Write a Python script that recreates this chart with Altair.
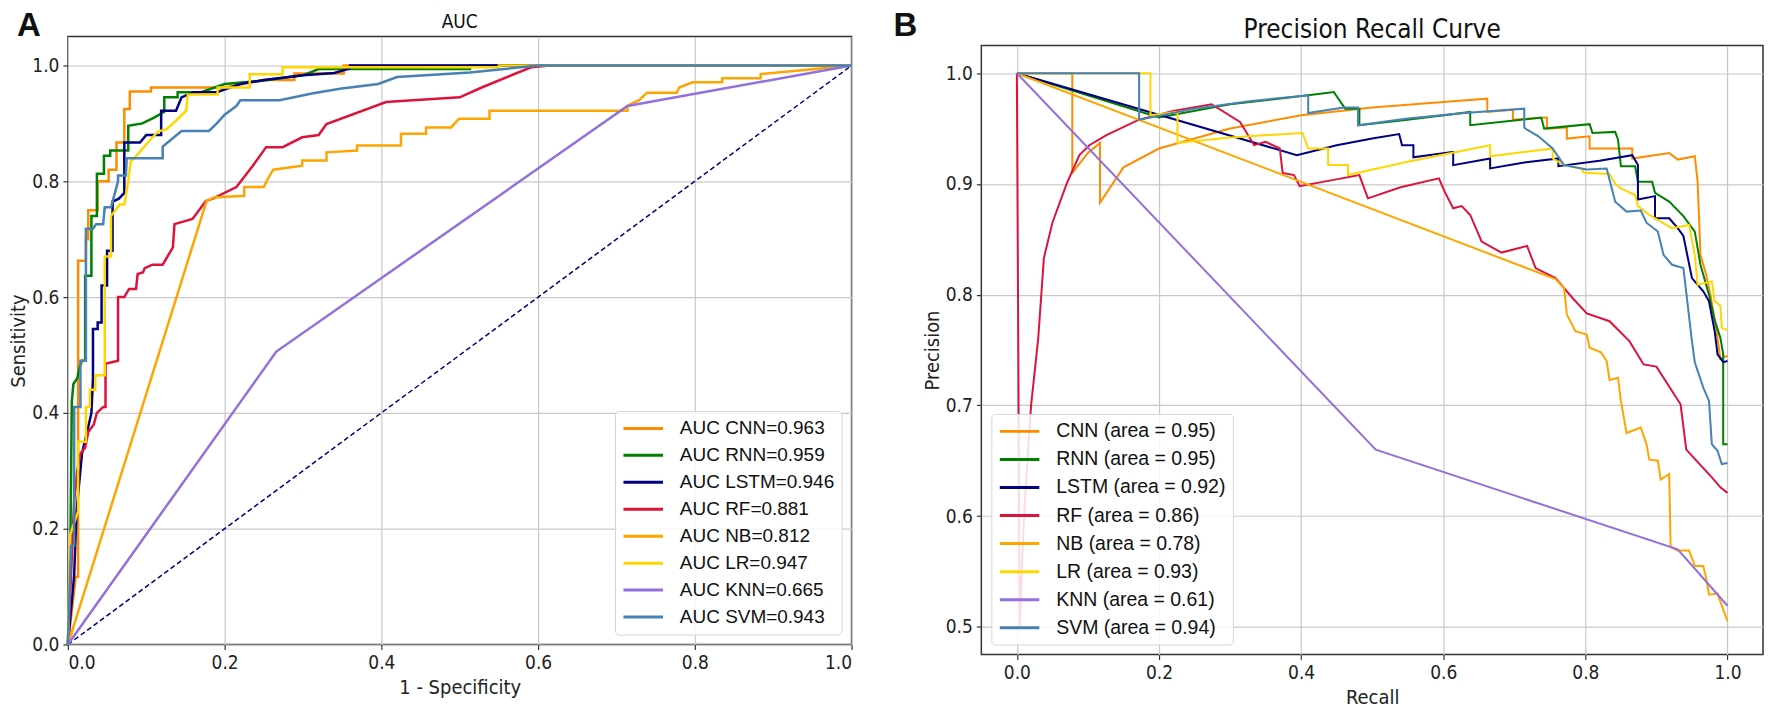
import altair as alt
import pandas as pd

# ---------------- data ----------------
MODELS = ["CNN", "RNN", "LSTM", "RF", "NB", "LR", "KNN", "SVM"]
COLORS = ["#ff8c00", "#008000", "#000080", "#dc143c", "#ffa500", "#ffd700", "#9370db", "#4682b4"]
ROC_AUC = ["0.963", "0.959", "0.946", "0.881", "0.812", "0.947", "0.665", "0.943"]
PR_AREA = ["0.95", "0.95", "0.92", "0.86", "0.78", "0.93", "0.61", "0.94"]
TITLE_A = "AUC"
TITLE_B = "Precision Recall Curve"

# ROC curves: (1 - specificity, sensitivity)
ROC_CNN = [(0, 0), (0.010, 0.117), (0.013, 0.117), (0.013, 0.663), (0.023, 0.663), (0.023, 0.70),
           (0.026, 0.70), (0.026, 0.75), (0.038, 0.75), (0.038, 0.80), (0.052, 0.80), (0.052, 0.82),
           (0.062, 0.82), (0.062, 0.867), (0.072, 0.867), (0.072, 0.925), (0.079, 0.925), (0.079, 0.955),
           (0.106, 0.955), (0.106, 0.962), (0.20, 0.962), (0.25, 0.975), (0.289, 0.975), (0.289, 0.986),
           (0.352, 0.986), (0.352, 1.0), (1.0, 1.0)]
ROC_RNN = [(0, 0), (0.003, 0.15), (0.005, 0.42), (0.007, 0.45), (0.012, 0.46), (0.015, 0.48),
           (0.018, 0.49), (0.022, 0.49), (0.022, 0.637), (0.030, 0.637), (0.030, 0.74), (0.037, 0.74),
           (0.037, 0.813), (0.046, 0.813), (0.046, 0.844), (0.054, 0.844), (0.054, 0.853), (0.077, 0.853),
           (0.077, 0.896), (0.095, 0.90), (0.11, 0.91), (0.123, 0.92), (0.123, 0.945), (0.14, 0.945),
           (0.14, 0.954), (0.17, 0.954), (0.20, 0.968), (0.25, 0.974), (0.30, 0.983), (0.32, 0.994),
           (0.513, 0.994), (0.513, 1.0), (1.0, 1.0)]
ROC_LSTM = [(0, 0), (0.008, 0.12), (0.011, 0.23), (0.018, 0.33), (0.025, 0.37), (0.030, 0.40),
            (0.032, 0.46), (0.032, 0.545), (0.038, 0.545), (0.038, 0.556), (0.043, 0.556), (0.043, 0.62),
            (0.050, 0.62), (0.050, 0.68), (0.057, 0.68), (0.057, 0.765), (0.065, 0.77), (0.072, 0.78),
            (0.072, 0.867), (0.092, 0.867), (0.10, 0.88), (0.119, 0.88), (0.119, 0.922), (0.138, 0.922),
            (0.145, 0.945), (0.16, 0.954), (0.19, 0.954), (0.22, 0.968), (0.25, 0.975), (0.30, 0.983),
            (0.34, 0.987), (0.36, 0.995), (0.36, 1.0), (1.0, 1.0)]
ROC_RF = [(0, 0), (0.004, 0.12), (0.008, 0.25), (0.012, 0.30), (0.016, 0.33), (0.022, 0.34),
          (0.026, 0.367), (0.033, 0.38), (0.037, 0.40), (0.045, 0.41), (0.048, 0.41), (0.048, 0.485),
          (0.064, 0.49), (0.064, 0.60), (0.072, 0.60), (0.078, 0.614), (0.087, 0.614), (0.089, 0.64),
          (0.096, 0.643), (0.098, 0.65), (0.108, 0.656), (0.121, 0.656), (0.134, 0.686), (0.136, 0.726),
          (0.159, 0.735), (0.176, 0.766), (0.185, 0.77), (0.215, 0.79), (0.236, 0.827), (0.253, 0.859),
          (0.274, 0.859), (0.299, 0.876), (0.32, 0.88), (0.33, 0.899), (0.406, 0.937), (0.44, 0.94),
          (0.50, 0.945), (0.528, 0.962), (0.591, 0.997), (0.615, 1.0), (1.0, 1.0)]
ROC_NB = [(0, 0), (0.177, 0.766), (0.186, 0.772), (0.225, 0.775), (0.225, 0.79), (0.25, 0.79),
          (0.255, 0.804), (0.262, 0.82), (0.299, 0.827), (0.299, 0.836), (0.33, 0.836), (0.33, 0.85),
          (0.369, 0.853), (0.369, 0.862), (0.425, 0.862), (0.425, 0.882), (0.457, 0.882), (0.457, 0.893),
          (0.489, 0.893), (0.499, 0.908), (0.538, 0.908), (0.538, 0.922), (0.714, 0.922), (0.714, 0.93),
          (0.722, 0.936), (0.729, 0.94), (0.739, 0.953), (0.777, 0.953), (0.78, 0.962), (0.797, 0.971),
          (0.835, 0.971), (0.835, 0.978), (0.884, 0.978), (0.884, 0.985), (1.0, 1.0)]
ROC_LR = [(0, 0), (0.003, 0.19), (0.013, 0.23), (0.013, 0.35), (0.023, 0.35), (0.023, 0.41),
          (0.028, 0.41), (0.028, 0.44), (0.035, 0.44), (0.035, 0.465), (0.047, 0.465), (0.047, 0.67),
          (0.055, 0.67), (0.055, 0.74), (0.066, 0.76), (0.072, 0.76), (0.077, 0.80), (0.080, 0.834),
          (0.085, 0.84), (0.093, 0.853), (0.104, 0.87), (0.115, 0.886), (0.126, 0.89), (0.138, 0.905),
          (0.151, 0.922), (0.153, 0.95), (0.191, 0.95), (0.191, 0.962), (0.232, 0.962), (0.232, 0.985),
          (0.274, 0.985), (0.274, 0.997), (0.55, 0.997), (0.55, 1.0), (1.0, 1.0)]
ROC_KNN = [(0, 0), (0.266, 0.506), (0.714, 0.93), (1.0, 1.0)]
ROC_SVM = [(0, 0), (0.004, 0.17), (0.008, 0.17), (0.008, 0.41), (0.016, 0.41), (0.016, 0.49),
           (0.023, 0.49), (0.023, 0.718), (0.032, 0.718), (0.036, 0.726), (0.045, 0.726), (0.047, 0.755),
           (0.055, 0.755), (0.064, 0.80), (0.064, 0.81), (0.074, 0.81), (0.075, 0.84), (0.121, 0.84),
           (0.121, 0.86), (0.13, 0.87), (0.145, 0.887), (0.18, 0.887), (0.19, 0.90), (0.20, 0.915),
           (0.215, 0.93), (0.22, 0.94), (0.27, 0.94), (0.313, 0.952), (0.347, 0.96), (0.396, 0.968),
           (0.42, 0.98), (0.513, 0.988), (0.557, 0.994), (0.60, 1.0), (1.0, 1.0)]
DIAGONAL = [(0.0, 0.0), (1.0, 1.0)]

# Precision-recall curves: (recall, precision)
PR_CNN = [(0, 1.0), (0.078, 1.0), (0.078, 0.91), (0.10, 0.928), (0.117, 0.937), (0.117, 0.883),
          (0.15, 0.915), (0.20, 0.932), (0.30, 0.95), (0.40, 0.962), (0.50, 0.969), (0.60, 0.974),
          (0.662, 0.977), (0.662, 0.965), (0.698, 0.967), (0.698, 0.958), (0.746, 0.96), (0.746, 0.95),
          (0.774, 0.951), (0.774, 0.941), (0.806, 0.943), (0.806, 0.932), (0.866, 0.932), (0.866, 0.923),
          (0.918, 0.928), (0.93, 0.922), (0.954, 0.925), (0.958, 0.902), (0.962, 0.836), (0.97, 0.818),
          (0.976, 0.80), (0.984, 0.77), (0.99, 0.742), (1.0, 0.745)]
PR_RNN = [(0, 1.0), (0.20, 0.96), (0.30, 0.972), (0.41, 0.98), (0.446, 0.983), (0.462, 0.968),
          (0.482, 0.968), (0.482, 0.953), (0.55, 0.958), (0.638, 0.965), (0.638, 0.953), (0.738, 0.96),
          (0.742, 0.95), (0.806, 0.954), (0.81, 0.946), (0.842, 0.947), (0.846, 0.94), (0.85, 0.916),
          (0.87, 0.916), (0.874, 0.902), (0.894, 0.902), (0.898, 0.892), (0.918, 0.884), (0.938, 0.871),
          (0.954, 0.857), (0.962, 0.827), (0.974, 0.80), (0.982, 0.777), (0.99, 0.761), (0.994, 0.746),
          (0.994, 0.665), (1.0, 0.665)]
PR_LSTM = [(0, 1.0), (0.394, 0.926), (0.45, 0.935), (0.50, 0.941), (0.538, 0.945), (0.542, 0.935),
           (0.558, 0.935), (0.558, 0.924), (0.614, 0.929), (0.614, 0.917), (0.666, 0.923), (0.666, 0.914),
           (0.71, 0.919), (0.762, 0.923), (0.762, 0.916), (0.82, 0.921), (0.866, 0.926), (0.874, 0.917),
           (0.874, 0.886), (0.898, 0.889), (0.898, 0.869), (0.918, 0.869), (0.93, 0.86), (0.938, 0.853),
           (0.95, 0.815), (0.966, 0.803), (0.974, 0.794), (0.982, 0.767), (0.986, 0.746), (0.994, 0.739),
           (1.0, 0.74)]
PR_RF = [(0, 1.0), (0.004, 0.5), (0.01, 0.6), (0.02, 0.7), (0.03, 0.76), (0.038, 0.833), (0.05, 0.865),
         (0.07, 0.90), (0.088, 0.926), (0.102, 0.935), (0.126, 0.944), (0.172, 0.958), (0.22, 0.966),
         (0.274, 0.972), (0.314, 0.956), (0.334, 0.935), (0.35, 0.938), (0.37, 0.932), (0.374, 0.91),
         (0.39, 0.908), (0.398, 0.898), (0.44, 0.903), (0.482, 0.908), (0.494, 0.887), (0.54, 0.897),
         (0.594, 0.905), (0.602, 0.893), (0.614, 0.878), (0.626, 0.88), (0.638, 0.872), (0.654, 0.848),
         (0.682, 0.838), (0.718, 0.844), (0.73, 0.824), (0.758, 0.815), (0.782, 0.797), (0.802, 0.783),
         (0.834, 0.776), (0.862, 0.758), (0.882, 0.737), (0.90, 0.735), (0.934, 0.701), (0.942, 0.66),
         (0.978, 0.635), (0.99, 0.626), (1.0, 0.621)]
PR_NB = [(0, 1.0), (0.758, 0.814), (0.77, 0.806), (0.774, 0.782), (0.786, 0.767), (0.802, 0.764),
         (0.806, 0.752), (0.822, 0.748), (0.83, 0.74), (0.834, 0.723), (0.846, 0.725), (0.85, 0.704),
         (0.858, 0.675), (0.878, 0.68), (0.886, 0.665), (0.89, 0.651), (0.902, 0.65), (0.906, 0.633),
         (0.918, 0.638), (0.92, 0.572), (0.93, 0.569), (0.946, 0.569), (0.954, 0.555), (0.966, 0.555),
         (0.97, 0.544), (0.974, 0.529), (0.986, 0.53), (1.0, 0.505)]
PR_LR = [(0, 1.0), (0.188, 1.0), (0.188, 0.962), (0.226, 0.965), (0.226, 0.937), (0.30, 0.942),
         (0.402, 0.946), (0.41, 0.932), (0.438, 0.932), (0.438, 0.917), (0.466, 0.917), (0.466, 0.908),
         (0.55, 0.92), (0.666, 0.935), (0.666, 0.925), (0.754, 0.932), (0.754, 0.923), (0.77, 0.917),
         (0.794, 0.914), (0.798, 0.91), (0.834, 0.909), (0.842, 0.90), (0.85, 0.896), (0.87, 0.89),
         (0.874, 0.88), (0.89, 0.872), (0.906, 0.866), (0.922, 0.86), (0.946, 0.863), (0.954, 0.836),
         (0.958, 0.809), (0.978, 0.812), (0.982, 0.794), (0.99, 0.79), (0.992, 0.77), (1.0, 0.768)]
PR_KNN = [(0, 1.0), (0.505, 0.66), (0.93, 0.57), (1.0, 0.519)]
PR_SVM = [(0, 1.0), (0.172, 1.0), (0.172, 0.958), (0.25, 0.968), (0.33, 0.975), (0.41, 0.98),
          (0.41, 0.964), (0.46, 0.969), (0.48, 0.969), (0.48, 0.953), (0.55, 0.959), (0.63, 0.964),
          (0.714, 0.968), (0.714, 0.951), (0.718, 0.949), (0.734, 0.943), (0.754, 0.932), (0.77, 0.917),
          (0.802, 0.913), (0.83, 0.914), (0.842, 0.884), (0.858, 0.875), (0.878, 0.876), (0.886, 0.865),
          (0.902, 0.857), (0.91, 0.836), (0.922, 0.827), (0.938, 0.824), (0.95, 0.758), (0.954, 0.739),
          (0.966, 0.716), (0.974, 0.704), (0.978, 0.665), (0.986, 0.659), (0.992, 0.647), (1.0, 0.648)]

TICKS_01 = [0.0, 0.2, 0.4, 0.6, 0.8, 1.0]
TICKS_PR_Y = [0.5, 0.6, 0.7, 0.8, 0.9, 1.0]

ROC_CURVES = [ROC_CNN, ROC_RNN, ROC_LSTM, ROC_RF, ROC_NB, ROC_LR, ROC_KNN, ROC_SVM]
PR_CURVES = [PR_CNN, PR_RNN, PR_LSTM, PR_RF, PR_NB, PR_LR, PR_KNN, PR_SVM]

# ---------------- tables ----------------
def build(curves, labels):
    rows = []
    for m, lab, pts in zip(MODELS, labels, curves):
        for i, (x, y) in enumerate(pts):
            rows.append({"model": m, "label": lab, "x": x, "y": y, "i": i})
    return pd.DataFrame(rows)

roc_labels = [f"AUC {m}={a}" for m, a in zip(MODELS, ROC_AUC)]
pr_labels = [f"{m} (area = {a})" for m, a in zip(MODELS, PR_AREA)]
roc_df = build(ROC_CURVES, roc_labels)
pr_df = build(PR_CURVES, pr_labels)
diag_df = pd.DataFrame(DIAGONAL, columns=["x", "y"])

FONT = "DejaVu Sans Condensed, Liberation Sans Narrow, Liberation Sans, sans-serif"
LEGEND_FONT = "Liberation Sans, Arial, sans-serif"
LETTER_FONT = "Liberation Sans, Arial, sans-serif"

W_A, H_A = 785, 609
W_B, H_B = 783, 610
B_DROP = 9          # panel B's plot sits a little lower than panel A's
GAP = 130           # horizontal distance between the two plot areas


def legend(orient, offset, size, row_pad):
    return alt.Legend(title=None, orient=orient, offset=offset,
                      symbolType="M-1,0H3.4", symbolStrokeWidth=3, symbolSize=324,
                      labelFont=LEGEND_FONT, labelFontSize=size, labelColor="#111", labelOffset=37,
                      fillColor="rgba(255,255,255,0.85)", strokeColor="#d6d6d6", cornerRadius=4,
                      padding=7, rowPadding=row_pad, labelLimit=300)


def text_layer(txt, x, y, size, font, weight="normal", align="center"):
    return alt.Chart(pd.DataFrame({"t": [txt]})).mark_text(
        font=font, fontSize=size, fontWeight=weight, align=align, baseline="alphabetic", color="#111111"
    ).encode(text="t:N", x=alt.value(x), y=alt.value(y))


# ---------------- panel A ----------------
xA = alt.X("x:Q", scale=alt.Scale(domain=[0, 1.0], nice=False, zero=False),
           axis=alt.Axis(values=TICKS_01, format=".1f", title="1 - Specificity"))
yA = alt.Y("y:Q", scale=alt.Scale(domain=[0, 1.05], nice=False, zero=False),
           axis=alt.Axis(values=TICKS_01, format=".1f", title="Sensitivity", titlePadding=3))
colA = alt.Color("label:N", scale=alt.Scale(domain=roc_labels, range=COLORS),
                 legend=legend("bottom-right", 10, 19, 6.0))

layersA = [alt.Chart(diag_df).mark_line(color="#000080", strokeWidth=1.5, strokeDash=[5, 3])
           .encode(x=xA, y=yA)]
for m in MODELS:
    layersA.append(alt.Chart(roc_df).transform_filter(alt.datum.model == m)
                   .mark_line(strokeWidth=2.5)
                   .encode(x=xA, y=yA, color=colA, order=alt.Order("i:Q")))
layersA.append(text_layer("A", -51, -1, 33, LETTER_FONT, "bold", "left"))
layersA.append(text_layer(TITLE_A, W_A / 2, -9, 19, FONT))
chartA = alt.layer(*layersA).properties(width=W_A, height=H_A)

# ---------------- panel B ----------------
xB = alt.X("x:Q", scale=alt.Scale(domain=[-0.05, 1.05], nice=False, zero=False),
           axis=alt.Axis(values=TICKS_01, format=".1f", title="Recall"))
yB = alt.Y("y:Q", scale=alt.Scale(domain=[0.475, 1.025], nice=False, zero=False),
           axis=alt.Axis(values=TICKS_PR_Y, format=".1f", title="Precision", titlePadding=3))
colB = alt.Color("label:N", scale=alt.Scale(domain=pr_labels, range=COLORS),
                 legend=legend("bottom-left", 10, 19.5, 8.1))

layersB = []
for m in MODELS:
    layersB.append(alt.Chart(pr_df).transform_filter(alt.datum.model == m)
                   .mark_line(strokeWidth=2)
                   .encode(x=xB, y=yB, color=colB, order=alt.Order("i:Q")))
layersB.append(text_layer("B", -88, -10, 33, LETTER_FONT, "bold", "left"))
layersB.append(text_layer(TITLE_B, W_B / 2, -8, 26, FONT))
chartB = alt.layer(*layersB).properties(width=W_B, height=H_B)

spacer = alt.Chart(pd.DataFrame({"t": [""]})).mark_text().encode(
    text="t:N", x=alt.value(0), y=alt.value(0)
).properties(width=W_B, height=B_DROP, view=alt.ViewBackground(stroke="transparent"))

columnB = alt.vconcat(spacer, chartB, spacing=0, bounds="flush").resolve_scale(
    color="independent"
).resolve_legend(color="independent")

chart = alt.hconcat(chartA, columnB, spacing=GAP, bounds="flush").resolve_scale(
    color="independent"
).resolve_legend(color="independent").properties(
    padding={"left": 0, "top": 0, "right": 0, "bottom": 0}
).configure_view(
    stroke="#333333", strokeWidth=1.5
).configure_axis(
    grid=True, gridColor="#c8c8c8", gridWidth=1.2, domain=False,
    tickColor="#333333", tickSize=5, tickWidth=1.2,
    labelFont=FONT, labelFontSize=19, labelColor="#222222", labelPadding=4,
    titleFont=FONT, titleFontSize=20, titleFontWeight="normal", titleColor="#222222", titlePadding=5
)

chart.save("out.html", embed_options={"renderer": "svg", "actions": False})
